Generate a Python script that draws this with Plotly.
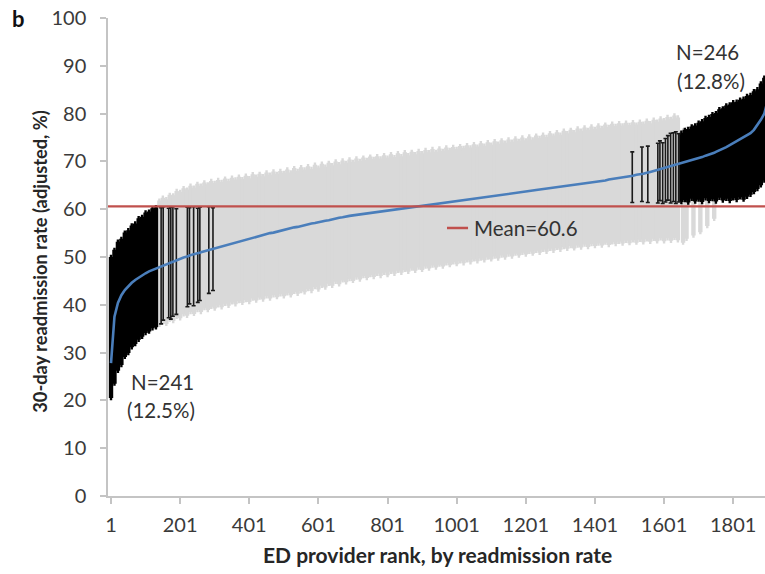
import plotly.graph_objects as go

MEAN = 60.6

# Providers sampled every 10 ranks (rank, adjusted rate, 95% CI low, 95% CI high)
GRID_RANK = list(range(1, 1922, 10))
GRID_RATE = [
    27.8, 37.5, 40.4, 42.0, 43.1, 43.9, 44.6, 45.2, 45.7, 46.2,
    46.6, 47.0, 47.3, 47.6, 47.9, 48.2, 48.5, 48.8, 49.1, 49.4,
    49.6, 49.9, 50.1, 50.4, 50.6, 50.8, 51.0, 51.2, 51.5, 51.7,
    51.9, 52.1, 52.3, 52.5, 52.7, 52.9, 53.1, 53.3, 53.5, 53.7,
    53.9, 54.1, 54.3, 54.4, 54.6, 54.8, 55.0, 55.1, 55.3, 55.5,
    55.7, 55.8, 56.0, 56.2, 56.3, 56.5, 56.7, 56.8, 57.0, 57.1,
    57.3, 57.4, 57.6, 57.7, 57.9, 58.0, 58.2, 58.3, 58.5, 58.6,
    58.7, 58.8, 58.9, 59.0, 59.1, 59.2, 59.3, 59.4, 59.5, 59.6,
    59.7, 59.8, 59.9, 60.0, 60.1, 60.2, 60.3, 60.4, 60.5, 60.5,
    60.6, 60.7, 60.8, 60.9, 61.0, 61.1, 61.2, 61.3, 61.4, 61.5,
    61.6, 61.7, 61.8, 61.9, 62.0, 62.1, 62.2, 62.3, 62.4, 62.5,
    62.6, 62.7, 62.8, 62.9, 63.0, 63.1, 63.3, 63.4, 63.5, 63.6,
    63.7, 63.8, 63.9, 64.0, 64.1, 64.2, 64.3, 64.3, 64.4, 64.5,
    64.6, 64.7, 64.8, 64.9, 65.0, 65.1, 65.2, 65.3, 65.4, 65.5,
    65.7, 65.8, 65.9, 66.0, 66.2, 66.3, 66.4, 66.6, 66.7, 66.8,
    66.9, 67.0, 67.2, 67.3, 67.4, 67.6, 67.8, 68.0, 68.2, 68.4,
    68.6, 68.8, 69.0, 69.2, 69.4, 69.6, 69.8, 70.1, 70.3, 70.5,
    70.7, 70.9, 71.2, 71.4, 71.7, 72.0, 72.3, 72.7, 73.0, 73.4,
    73.8, 74.2, 74.6, 75.0, 75.4, 75.9, 76.6, 77.6, 78.7, 80.0,
    82.5, 85.5, 89.0,
]
GRID_HIGH = [
    50.0, 51.5, 53.2, 53.8, 55.1, 55.6, 56.6, 57.0, 58.1, 58.4,
    59.3, 59.5, 60.2, 60.4, 61.8, 62.4, 62.1, 63.0, 62.9, 63.8,
    63.6, 64.4, 64.1, 64.9, 64.5, 65.3, 64.9, 65.6, 65.2, 65.9,
    65.5, 66.1, 65.7, 66.4, 65.9, 66.6, 66.2, 66.8, 66.3, 67.0,
    66.5, 67.3, 66.8, 67.4, 66.9, 67.7, 67.2, 67.9, 67.4, 68.0,
    67.6, 68.3, 67.7, 68.6, 68.0, 68.8, 68.3, 69.0, 68.4, 69.3,
    68.7, 69.5, 68.9, 69.7, 69.2, 70.0, 69.4, 70.2, 69.7, 70.4,
    69.9, 70.6, 70.1, 70.8, 70.3, 71.0, 70.5, 71.1, 70.6, 71.3,
    70.8, 71.5, 70.9, 71.7, 71.1, 71.9, 71.3, 72.0, 71.5, 72.2,
    71.7, 72.4, 71.9, 72.6, 72.0, 72.7, 72.2, 72.9, 72.4, 73.0,
    72.6, 73.2, 72.8, 73.4, 72.9, 73.6, 73.1, 73.8, 73.3, 74.0,
    73.5, 74.2, 73.7, 74.4, 73.9, 74.6, 74.1, 74.8, 74.3, 75.0,
    74.4, 75.2, 74.6, 75.4, 74.9, 75.6, 75.1, 75.9, 75.4, 76.1,
    75.6, 76.4, 75.9, 76.6, 76.1, 76.9, 76.4, 77.1, 76.6, 77.3,
    76.8, 77.5, 77.0, 77.7, 77.2, 77.9, 77.4, 78.0, 77.5, 78.1,
    77.6, 78.2, 77.7, 78.3, 77.9, 78.5, 78.0, 78.7, 78.3, 79.0,
    78.6, 79.3, 78.9, 79.6, 79.2, 76.0, 76.6, 76.8, 77.3, 77.5,
    78.1, 78.4, 79.1, 79.3, 79.9, 80.1, 80.9, 81.1, 81.7, 81.9,
    82.4, 82.5, 82.9, 83.1, 83.7, 83.9, 84.7, 85.1, 86.3, 87.5,
    89.2, 91.0, 93.5,
]
GRID_LOW = [
    20.5, 23.5, 26.2, 27.4, 29.1, 29.9, 31.1, 31.8, 32.7, 33.3,
    34.1, 34.4, 35.1, 35.3, 35.8, 36.4, 36.0, 36.9, 36.6, 37.5,
    37.2, 38.0, 37.7, 38.5, 38.1, 38.9, 38.5, 39.3, 38.9, 39.6,
    39.2, 39.9, 39.5, 40.2, 39.8, 40.5, 40.1, 40.8, 40.4, 41.0,
    40.6, 41.3, 40.9, 41.5, 41.1, 41.8, 41.3, 42.0, 41.6, 42.2,
    41.8, 42.4, 42.0, 42.7, 42.3, 42.9, 42.6, 43.3, 42.9, 43.7,
    43.2, 44.0, 43.6, 44.4, 44.0, 44.8, 44.3, 45.1, 44.7, 45.4,
    45.0, 45.7, 45.3, 46.0, 45.6, 46.2, 45.8, 46.5, 46.0, 46.7,
    46.2, 46.9, 46.5, 47.1, 46.7, 47.3, 46.9, 47.6, 47.1, 47.8,
    47.3, 48.0, 47.6, 48.2, 47.8, 48.4, 48.0, 48.7, 48.3, 48.9,
    48.5, 49.1, 48.7, 49.3, 48.9, 49.5, 49.1, 49.7, 49.3, 49.9,
    49.5, 50.1, 49.7, 50.3, 49.9, 50.5, 50.1, 50.7, 50.3, 50.9,
    50.5, 51.1, 50.7, 51.3, 50.9, 51.5, 51.1, 51.7, 51.3, 51.9,
    51.5, 52.1, 51.7, 52.3, 51.8, 52.4, 52.0, 52.6, 52.1, 52.7,
    52.3, 52.8, 52.4, 53.0, 52.5, 53.1, 52.7, 53.2, 52.8, 53.4,
    52.9, 53.5, 53.0, 53.6, 53.1, 53.7, 53.2, 53.8, 53.3, 53.9,
    53.3, 53.9, 53.4, 54.0, 53.5, 61.5, 61.9, 61.4, 62.2, 61.6,
    62.0, 61.5, 62.3, 61.7, 62.1, 61.6, 62.4, 61.8, 62.2, 61.7,
    62.3, 61.9, 62.5, 62.0, 62.6, 63.0, 63.6, 64.2, 65.0, 66.0,
    68.0, 70.5, 73.0,
]

# Additional individually visible providers (sparse outliers and overlapping bars)
EXTRA_RANK = [146, 152, 168, 174, 180, 190, 222, 228, 240, 252, 258, 284, 296,
              1509, 1537, 1554, 1583, 1589, 1597, 1605, 1612, 1620, 1628, 1635, 1643,
              1656, 1666, 1686, 1706, 1726, 1746]
EXTRA_RATE = [48.0, 48.2, 48.7, 48.9, 49.1, 49.4, 50.1, 50.3, 50.6, 50.8, 50.9, 51.5, 51.8,
              66.9, 67.3, 67.7, 68.2, 68.3, 68.5, 68.7, 68.8, 69.0, 69.1, 69.3, 69.5,
              69.7, 69.9, 70.4, 70.8, 71.3, 71.8]
EXTRA_LOW = [36.0, 36.8, 37.3, 37.0, 37.6, 38.0, 39.6, 40.2, 39.8, 40.5, 40.9, 42.4, 43.0,
             61.4, 61.6, 61.4, 61.3, 61.8, 61.2, 61.5, 61.9, 61.3, 61.6, 61.2, 61.5,
             53.0, 53.8, 54.5, 55.2, 56.5, 58.0]
EXTRA_HIGH = [60.3, 60.5, 60.2, 60.4, 60.5, 60.1, 60.4, 60.3, 60.5, 60.2, 60.4, 60.5, 60.3,
              72.0, 73.0, 73.2, 73.8, 74.3, 73.9, 74.8, 75.4, 75.9, 76.0, 76.2, 75.8,
              76.5, 76.8, 77.2, 77.9, 78.8, 79.5]

X_TICKS = [1, 201, 401, 601, 801, 1001, 1201, 1401, 1601, 1801]
Y_TICKS = [0, 10, 20, 30, 40, 50, 60, 70, 80, 90, 100]

assert len(GRID_RANK) == len(GRID_RATE) == len(GRID_HIGH) == len(GRID_LOW)
assert len(EXTRA_RANK) == len(EXTRA_RATE) == len(EXTRA_HIGH) == len(EXTRA_LOW)

FONT = "Lato, 'Open Sans', sans-serif"
GRAY = "#d9d9d9"
BLACK = "#000000"
BLUE = "#4a7ebb"
RED = "#c0504d"
AXIS = "#c4c4c4"


def split(ranks, rate, low, high, significant):
    out = ([], [], [], [])
    for r, v, lo, hi in zip(ranks, rate, low, high):
        sig = hi < MEAN or lo > MEAN
        if sig == significant:
            out[0].append(r); out[1].append(v); out[2].append(lo); out[3].append(hi)
    return out


def ci_trace(group, color, thickness, cap):
    r, v, lo, hi = group
    return go.Scatter(
        x=r, y=v, mode="markers",
        marker=dict(size=1, color="rgba(0,0,0,0)"),
        error_y=dict(type="data", symmetric=False,
                     array=[h - y for h, y in zip(hi, v)],
                     arrayminus=[y - l for y, l in zip(v, lo)],
                     color=color, thickness=thickness, width=cap),
        hoverinfo="skip", showlegend=False)


fig = go.Figure()
fig.add_trace(ci_trace(split(GRID_RANK, GRID_RATE, GRID_LOW, GRID_HIGH, False), GRAY, 4.4, 1.2))
fig.add_trace(ci_trace(split(EXTRA_RANK, EXTRA_RATE, EXTRA_LOW, EXTRA_HIGH, False), GRAY, 4.4, 1.2))
fig.add_trace(ci_trace(split(GRID_RANK, GRID_RATE, GRID_LOW, GRID_HIGH, True), BLACK, 4.4, 1.2))
fig.add_trace(ci_trace(split(EXTRA_RANK, EXTRA_RATE, EXTRA_LOW, EXTRA_HIGH, True), "#1a1a1a", 1.6, 2))

# Blue line through all providers, ordered by rank
pairs = sorted(zip(GRID_RANK + EXTRA_RANK, GRID_RATE + EXTRA_RATE))
fig.add_trace(go.Scatter(x=[p[0] for p in pairs], y=[p[1] for p in pairs], mode="lines",
                         line=dict(color=BLUE, width=2.6), hoverinfo="skip", showlegend=False))

# Mean line
fig.add_shape(type="line", xref="paper", x0=0, x1=1, yref="y", y0=MEAN, y1=MEAN,
              line=dict(color=RED, width=2.2), layer="above")
# Mean label dash
fig.add_shape(type="line", xref="paper", yref="paper", x0=0.516, x1=0.548, y0=0.5607, y1=0.5607,
              line=dict(color=RED, width=2.5))

txt = dict(family=FONT, size=20.5, color="#333333")
ann = [
    dict(x=0.554, y=0.5607, text="Mean=60.6", xanchor="left", yanchor="middle"),
    dict(x=0.0822, y=0.2385, text="N=241", xanchor="center", yanchor="middle"),
    dict(x=0.0807, y=0.180, text="(12.5%)", xanchor="center", yanchor="middle"),
    dict(x=0.913, y=0.929, text="N=246", xanchor="center", yanchor="middle"),
    dict(x=0.918, y=0.868, text="(12.8%)", xanchor="center", yanchor="middle"),
]
for a in ann:
    fig.add_annotation(xref="paper", yref="paper", showarrow=False, font=txt, **a)

fig.add_annotation(xref="paper", yref="paper", x=-0.1355, y=1.0, text="<b>b</b>", showarrow=False,
                   xanchor="center", yanchor="middle", font=dict(family=FONT, size=22, color="#111111"))
fig.add_annotation(xref="paper", yref="paper", x=-0.1035, y=0.49, textangle=-90,
                   text="<b>30-day readmission rate (adjusted, %)</b>", showarrow=False,
                   xanchor="center", yanchor="middle", font=dict(family=FONT, size=18.3, color="#262626"))
fig.add_annotation(xref="paper", yref="paper", x=0.5008, y=-0.1234,
                   text="<b>ED provider rank, by readmission rate</b>", showarrow=False,
                   xanchor="center", yanchor="middle", font=dict(family=FONT, size=21, color="#262626"))

fig.update_layout(
    width=765, height=574,
    margin=dict(l=108, r=0, t=18, b=78),
    paper_bgcolor="white", plot_bgcolor="white",
    showlegend=False,
    xaxis=dict(range=[-7.7, 1893], tickmode="array", tickvals=X_TICKS,
               ticktext=[str(t) for t in X_TICKS],
               showline=True, linecolor=AXIS, linewidth=1.5, ticks="outside", ticklen=6,
               tickcolor=AXIS, tickwidth=1.5, showgrid=False, zeroline=False,
               tickfont=dict(family=FONT, size=20, color="#3a3a3a"), ticklabelstandoff=4),
    yaxis=dict(range=[0, 100], tickmode="array", tickvals=Y_TICKS,
               showline=True, linecolor=AXIS, linewidth=1.5, ticks="outside", ticklen=6,
               tickcolor=AXIS, tickwidth=1.5, showgrid=False, zeroline=False,
               tickfont=dict(family=FONT, size=20, color="#3a3a3a"), ticklabelstandoff=10),
)

fig.write_html("out.html", config={"displayModeBar": False},
               post_script="document.body.style.margin='0px';")
